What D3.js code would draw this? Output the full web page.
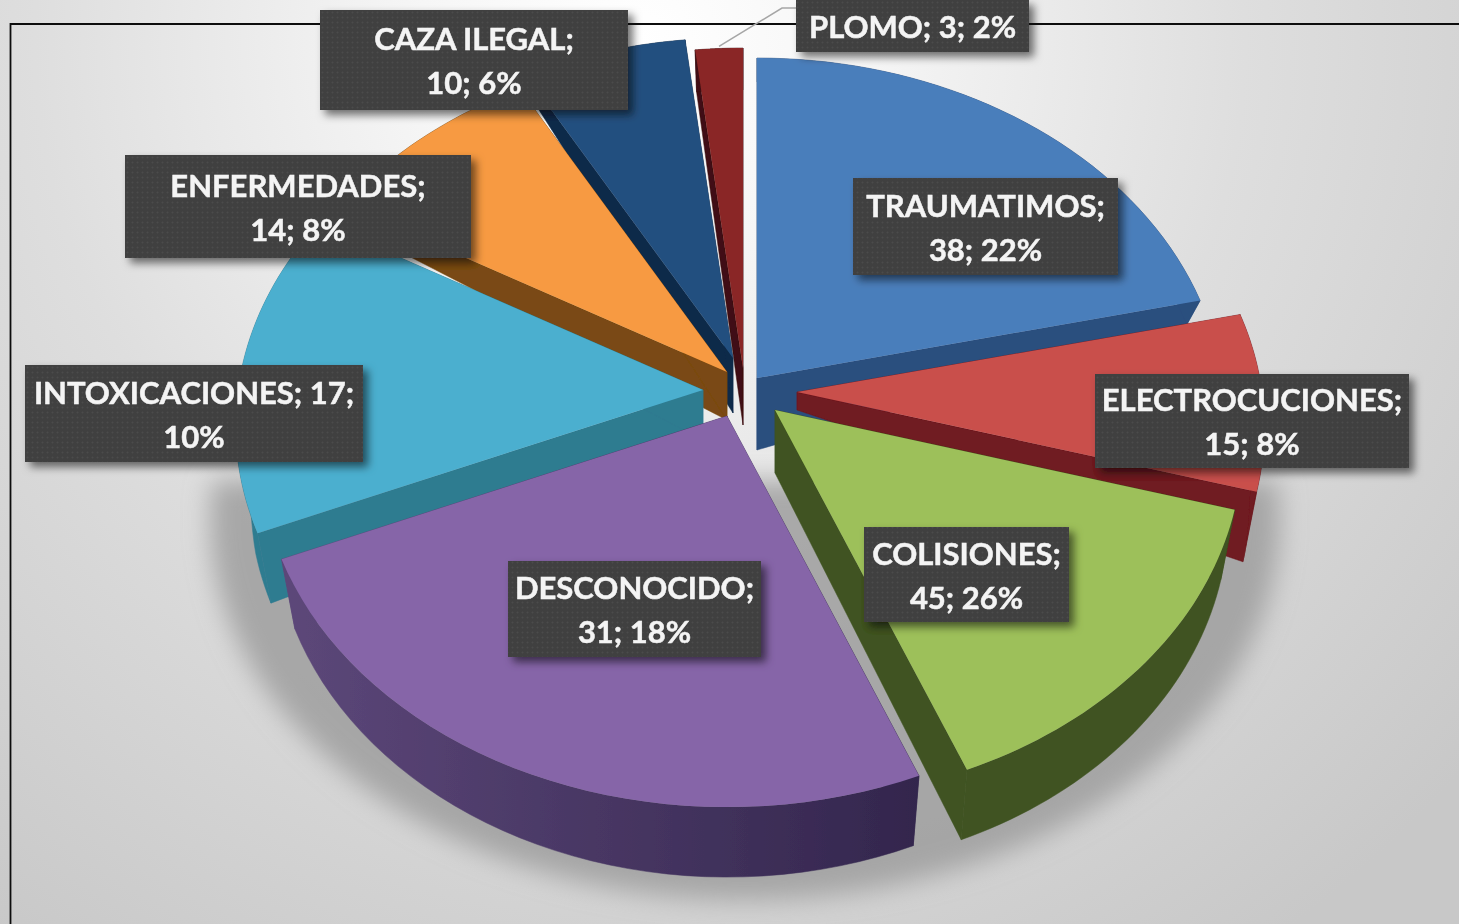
<!DOCTYPE html>
<meta charset="utf-8">
<script src="https://d3js.org/d3.v7.min.js"></script>
<style>
	body{
		margin:0;
		background:#fff;
		overflow:hidden;
	}
	text{
		font-family:Lato, sans-serif;
		font-weight:700;
	}
</style>
<div id="chart"></div>

<script>

var categories = ["TRAUMATIMOS","ELECTROCUCIONES","COLISIONES","DESCONOCIDO","INTOXICACIONES","ENFERMEDADES","CAZA ILEGAL","PLOMO"]
var values = [38,15,45,31,17,14,10,3]
var percents = [22,8,26,18,10,8,6,2]
// degrees each slice covers in the picture, the printed values do not add up to what is drawn
var drawnSweep = [77,29,52,89,53,31,22.5,6.5]

var topColors = ["#4a7ebb","#c94f4c","#9dc05a","#8665a8","#4bafcf","#f79a42","#24507f","#8a2826"]
var wallColors = ["#2a4f7e","#6f1a20","#3f5320","url(#purpleWall)","#2f7b90","#7a4a12","#0f2a4a","#3f0f12"]

// slice explosion: where the tip of each slice sits, and how deep its wall is there
var tips = [[757,378],[797,392],[775,410],[727,416],[703,390],[727,372],[733,358],[743,368]]
var tipDepth = [72,18,63,60,50,48,55,57]
var rimExtra = [0,0,0,0,0,0,0,18]
var drawOrder = [7,6,5,0,4,1,2,3]

// label boxes [x,y,w,h] and how many words stay on line one
var labelBoxes = [[853,178,265,97],[1095,374,314,94],[864,527,205,95],[508,561,253,96],[25,365,338,97],[125,155,346,103],[320,10,308,100],[796,0,233,52]]
var firstLine = [1,1,1,1,2,1,2,4]

var w = 1459
var h = 924

var svg = d3.select("#chart").append("svg").attr("width",w).attr("height",h)
var defs = svg.append("defs")

var bg = defs.append("radialGradient").attr("id","bg").attr("gradientUnits","userSpaceOnUse")
	.attr("cx",640).attr("cy",40).attr("r",1100)
bg.append("stop").attr("offset","0%").attr("stop-color","#ffffff")
bg.append("stop").attr("offset","20%").attr("stop-color","#f6f6f6")
bg.append("stop").attr("offset","55%").attr("stop-color","#dedede")
bg.append("stop").attr("offset","100%").attr("stop-color","#c8c8c8")

var pw = defs.append("linearGradient").attr("id","purpleWall").attr("gradientUnits","userSpaceOnUse")
	.attr("x1",290).attr("x2",920).attr("y1",0).attr("y2",0)
pw.append("stop").attr("offset","0%").attr("stop-color","#5c4779")
pw.append("stop").attr("offset","100%").attr("stop-color","#33264d")

defs.append("filter").attr("id","soft").append("feGaussianBlur").attr("stdDeviation",0.7)
defs.append("filter").attr("id","blur").attr("x","-20%").attr("y","-20%").attr("width","140%").attr("height","140%")
	.append("feGaussianBlur").attr("stdDeviation",13)
var boxShadow = defs.append("filter").attr("id","boxShadow").attr("x","-10%").attr("y","-20%").attr("width","125%").attr("height","150%")
boxShadow.append("feDropShadow").attr("dx",5).attr("dy",5).attr("stdDeviation",4).attr("flood-color","#000").attr("flood-opacity",0.55)

defs.append("clipPath").attr("id","floor").append("rect").attr("x",0).attr("y",480).attr("width",w).attr("height",h)

var dots = defs.append("pattern").attr("id","dots").attr("width",5).attr("height",5).attr("patternUnits","userSpaceOnUse")
dots.append("rect").attr("width",5).attr("height",5).attr("fill","#3f3f3f")
dots.append("circle").attr("cx",2.5).attr("cy",2.5).attr("r",1).attr("fill","#4c4c4c")

var root = svg.append("g").attr("filter","url(#soft)")

root.append("rect").attr("width",w).attr("height",h).attr("fill","url(#bg)")

// frame
root.append("path").attr("d","M10.5,"+h+"V24H"+w).attr("fill","none").attr("stroke","#111").attr("stroke-width",1.8)

// shadow on the floor
root.append("g").attr("filter","url(#blur)").append("ellipse").attr("clip-path","url(#floor)")
	.attr("cx",745).attr("cy",520).attr("rx",535).attr("ry",380)
	.attr("fill","#9a9a9a").attr("opacity",0.8)

// ---- projection of the tilted pie, perspective makes the back smaller
var radius = 465
var tilt = 352
var persp = 0.1
var bottomShrink = 0.97
var depth = d3.scaleLinear().domain([-0.1,0.25]).range([24,70]).clamp(true)

function rimPoint(tip,a){
	var Y = -Math.cos(a)
	var s = 1/(1-persp*Y)
	return [tip[0]+Math.sin(a)*radius*s, tip[1]+Y*tilt*s]
}
function rimBottom(tip,a,extra){
	var p = rimPoint(tip,a)
	return [tip[0]+(p[0]-tip[0])*bottomShrink, p[1]+depth(-Math.cos(a))+extra]
}

var pie = d3.pie().sort(null).value(function(d){return d})
var slices = pie(drawnSweep)
var line = d3.line()

var layer = root.append("g")
drawOrder.forEach(function(i){
	var d = slices[i]
	var tip = tips[i]
	var tipDown = [tip[0],tip[1]+tipDepth[i]]
	var angles = d3.range(0,41).map(function(k){return d.startAngle+(d.endAngle-d.startAngle)*k/40})
	var rim = angles.map(function(a){return rimPoint(tip,a)})
	var rimDown = angles.map(function(a){return rimBottom(tip,a,rimExtra[i])})

	var g = layer.append("g").attr("class","slice")
	// both cut walls and the outer wall, the top covers whichever faces away
	var walls = [
		[tip,rim[0],rimDown[0],tipDown],
		[tip,rim[40],rimDown[40],tipDown],
		rim.concat(rimDown.slice().reverse())
	]
	g.selectAll("path.wall").data(walls).join("path").attr("class","wall")
		.attr("d",function(p){return line(p)+"Z"})
		.attr("fill",wallColors[i])
		.attr("stroke",wallColors[i]).attr("stroke-width",0.5)
	g.append("path").attr("d",line([tip].concat(rim))+"Z").attr("fill",topColors[i])
})

// leader line of the PLOMO label
var plomoRim = rimPoint(tips[7],(slices[7].startAngle+slices[7].endAngle)/2)
root.append("path").attr("d",line([[plomoRim[0],plomoRim[1]-2],[782,8],[796,8]]))
	.attr("fill","none").attr("stroke","#a6a6a6").attr("stroke-width",1.5)

// ---- labels
var labels = root.append("g")
categories.forEach(function(name,i){
	var box = labelBoxes[i]
	var words = (name+"; "+values[i]+"; "+percents[i]+"%").split(" ")
	// CAZA ILEGAL has a space in the name, count words not fields
	var lines = [words.slice(0,firstLine[i]).join(" "),words.slice(firstLine[i]).join(" ")].filter(function(t){return t!=""})
	var g = labels.append("g")
	g.append("rect").attr("x",box[0]).attr("y",box[1]).attr("width",box[2]).attr("height",box[3])
		.attr("fill","url(#dots)").attr("filter","url(#boxShadow)")
	var mid = box[1]+box[3]/2
	var top = mid-(lines.length-1)*22
	g.selectAll("text").data(lines).join("text")
		.attr("x",box[0]+box[2]/2)
		.attr("y",function(t,k){return top+k*44+12})
		.attr("text-anchor","middle")
		.attr("font-size",31)
		.attr("fill","#f4f4f4")
		.attr("stroke","#f4f4f4").attr("stroke-width",0.5)
		.text(function(t){return t})
})

</script>
